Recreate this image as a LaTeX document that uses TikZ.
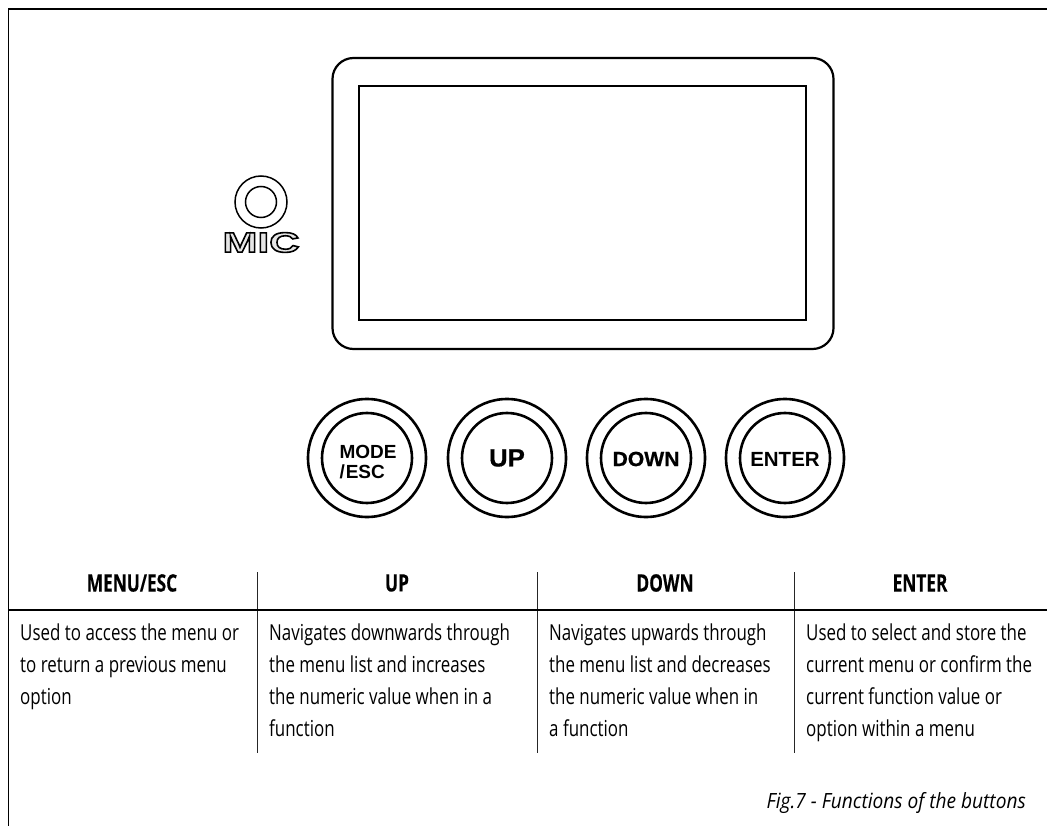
\documentclass[tikz,border=0pt]{standalone}
\usepackage{fontspec}
\setmainfont[FakeStretch=0.77]{Open Sans}
\newfontfamily\capfont[FakeStretch=0.91]{Open Sans}
\newfontfamily\headfont[FakeStretch=0.72,FakeBold=0.3]{Open Sans}
\newfontfamily\btn{Liberation Sans}
\newfontfamily\btnheavy[FakeBold=0.6,FakeStretch=1.03]{Liberation Sans}
\newfontfamily\micfont[FakeStretch=1.5]{Liberation Sans}
\newcommand{\outl}[1]{\special{pdf:code q 2 Tr 1.6 w 0.9 g}#1\special{pdf:code Q}}
\tikzset{
  frame/.style={line width=1.3pt,black},
  rule/.style={line width=1pt,black!85},
  hrule/.style={line width=2.2pt,black},
  scr/.style={line width=2.2pt,black},
  ring/.style={circle,draw,line width=2.6pt,minimum size=#1,inner sep=0pt},
  head/.style={font=\headfont\bfseries\fontsize{24}{26}\selectfont,anchor=center},
  body/.style={font=\fontsize{22}{32}\selectfont,anchor=north west,align=left,inner sep=0pt},
  btnlab/.style={font=\btn\bfseries\fontsize{#1}{#1}\selectfont,inner sep=0pt},
  btnhv/.style={font=\btnheavy\bfseries\fontsize{#1}{#1}\selectfont,align=center,inner sep=0pt},
}
\begin{document}
\begin{tikzpicture}[x=1pt,y=-1pt]
\useasboundingbox (0,0) rectangle (1047,826);
\coordinate (tl) at (8.5,9);
\coordinate (tr) at (1047,9);
\coordinate (bl) at (8.5,826);
\draw[frame] (bl) -- (tl) -- (tr);
\node[draw,scr,rounded corners=21pt,minimum width=501pt,minimum height=291pt,inner sep=0pt] (outer) at (583,203.5) {};
\node[draw,scr,minimum width=447pt,minimum height=234pt,inner sep=0pt] (inner) at (582.5,203) {};
\node[ring=52pt,line width=1.5pt] (mico) at (261,202) {};
\node[ring=31pt,line width=1.5pt] (mici) at (261,202) {};
\node[font=\micfont\bfseries\fontsize{28}{28}\selectfont,inner sep=0pt] (mic) at (261,242.5) {\outl{MIC}};
\foreach \n/\cx in {a/367,b/507,c/646,d/785}{
  \node[ring=118pt] (\n o) at (\cx,458) {};
  \node[ring=90pt] (\n i) at (\cx,458) {};
}
\node[btnlab=19,align=left] (la) at (368,462) {MODE\\[1pt]/\kern1pt ESC};
\node[btnhv=25] (lb) at (bi) {UP};
\node[btnhv=20.5] (lc) at (646,459) {DOWN};
\node[btnlab=20.5] (ld) at (785,459) {ENTER};
\node[head] (h1) at (132,583) {MENU/ESC};
\node[head] (h2) at (397,583) {UP};
\node[head] (h3) at (665,583) {DOWN};
\node[head] (h4) at (920,583) {ENTER};
\coordinate (v1t) at (257,572); \coordinate (v1b) at (257,753);
\coordinate (v2t) at (537,572); \coordinate (v2b) at (537,753);
\coordinate (v3t) at (794,572); \coordinate (v3b) at (794,753);
\draw[rule] (v1t) -- (v1b);
\draw[rule] (v2t) -- (v2b);
\draw[rule] (v3t) -- (v3b);
\coordinate (hl) at (8.5,610); \coordinate (hr) at (1047,610);
\draw[hrule] (hl) -- (hr);
\node[body] (b1) at (20,624) {Used to access the menu or\\to return a previous menu\\option};
\node[body] (b2) at (269,624) {Navigates downwards through\\the menu list and increases\\the numeric value when in a\\function};
\node[body] (b3) at (549,624) {Navigates upwards through\\the menu list and decreases\\the numeric value when in\\a function};
\node[body] (b4) at (806,624) {Used to select and store the\\current menu or confirm the\\current function value or\\option within a menu};
\node[font=\capfont\fontsize{21}{24}\selectfont\itshape,anchor=east,inner sep=0pt] (cap) at (1026,803) {Fig.7 - Functions of the buttons};
\end{tikzpicture}
\end{document}
